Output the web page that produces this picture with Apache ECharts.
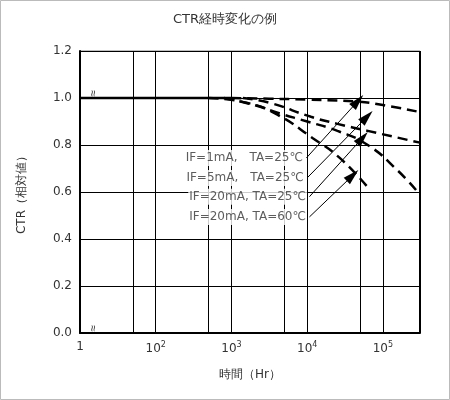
<!DOCTYPE html><html><head><meta charset="utf-8"><script src="https://cdn.jsdelivr.net/npm/echarts@6/dist/echarts.min.js"></script></head><body style="margin:0"><div id="c" style="width:450px;height:400px"></div><script>
const xTicks=[1,2,3,4,5];
const vGrid=[1.699,2,2.699,3,3.699,4,4.699,5];
const flat=[[1,1],[3,1]];
const c1=[[3,1],[3.5,0.997],[4,0.993],[4.65,0.985],[5,0.97],[5.49,0.94]];
const c2=[[3.15,1],[3.5,0.98],[4.05,0.92],[4.4,0.89],[4.8,0.86],[5.49,0.81]];
const c3=[[2.9,1],[3.3,0.97],[3.63,0.935],[4,0.9],[4.4,0.86],[4.8,0.8],[5.2,0.69],[5.46,0.6]];
const c4=[[2.7,1],[3.2,0.98],[3.6,0.93],[4.07,0.83],[4.43,0.745],[4.8,0.62]];
const labels=['IF=1mA,　TA=25℃','IF=5mA,　TA=25℃','IF=20mA, TA=25℃','IF=20mA, TA=60℃'];
const labelPts=[[3.99,0.745],[4.0,0.66],[4.03,0.58],[4.03,0.494]];
const arrowTips=[[4.67,0.987],[4.79,0.92],[4.73,0.83],[4.6,0.67]];
const F='DejaVu Sans';
const ch=echarts.init(document.getElementById('c'));
const dash=d=>({type:'line',data:d,symbol:'none',smooth:true,lineStyle:{color:'#000',width:2.5,type:[10,6]},silent:true});
ch.setOption({
 backgroundColor:'#fff',animation:false,
 title:{text:'CTR経時変化の例',left:'center',top:8,textStyle:{fontFamily:F,fontSize:13,fontWeight:'normal',color:'#333'}},
 graphic:[{type:'rect',shape:{x:0.5,y:0.5,width:449,height:399},style:{fill:'none',stroke:'#bbb'}},
  {type:'text',left:88,top:90,style:{text:'≈',fontSize:12,fill:'#333',backgroundColor:'#fff'},rotation:Math.PI/2},
  {type:'text',left:88,top:325,style:{text:'≈',fontSize:12,fill:'#333',backgroundColor:'#fff'},rotation:Math.PI/2}],
 grid:{left:80,right:30,top:51,bottom:67},
 xAxis:{type:'value',min:1,max:5.49,interval:1,name:'時間（Hr）',nameLocation:'middle',nameGap:36,
  nameTextStyle:{fontFamily:F,fontSize:12,color:'#333'},
  axisLine:{lineStyle:{color:'#000',width:2}},axisTick:{show:false},splitLine:{show:false},
  axisLabel:{showMaxLabel:false,fontFamily:F,fontSize:12,color:'#333',formatter:v=>v===1?'1':'10{s|'+v+'}',rich:{s:{fontSize:8,verticalAlign:'top',padding:[0,0,8,0]}}}},
 yAxis:{type:'value',min:0,max:1.2,interval:0.2,name:'CTR（相対値）',nameLocation:'middle',nameGap:52,nameRotate:90,
  nameTextStyle:{fontFamily:F,fontSize:12,color:'#333'},
  axisLine:{show:true,lineStyle:{color:'#000',width:2}},axisTick:{show:false},
  splitLine:{lineStyle:{color:'#000',width:1}},
  axisLabel:{fontFamily:F,fontSize:12,color:'#333',formatter:v=>v.toFixed(1)}},
 series:[
  {type:'line',data:flat,symbol:'none',lineStyle:{color:'#000',width:2.5},silent:true,
   markLine:{silent:true,symbol:'none',label:{show:false},lineStyle:{color:'#000',width:1,type:'solid'},data:vGrid.map(v=>({xAxis:v}))}},
  dash(c1),dash(c2),dash(c3),dash(c4),
  {type:'line',data:[[5.49,0],[5.49,1.2]],symbol:'none',lineStyle:{color:'#000',width:2},silent:true},
  {type:'line',data:[[1,1.2],[5.49,1.2]],symbol:'none',lineStyle:{color:'#000',width:1},silent:true},
  {type:'scatter',symbolSize:1,itemStyle:{color:'transparent'},silent:true,z:5,
   data:labelPts.map((p,i)=>({value:p,label:{show:true,position:'left',distance:2,formatter:labels[i],fontFamily:F,fontSize:12,color:'#333',backgroundColor:'#fff',padding:[2,1]}})),
   markLine:{silent:true,symbol:['none','triangle'],symbolSize:[9,16],label:{show:false},lineStyle:{color:'#000',width:1,type:'solid'},
    data:labelPts.map((p,i)=>[{coord:p},{coord:arrowTips[i]}])}}
 ]
});
</script></body></html>
